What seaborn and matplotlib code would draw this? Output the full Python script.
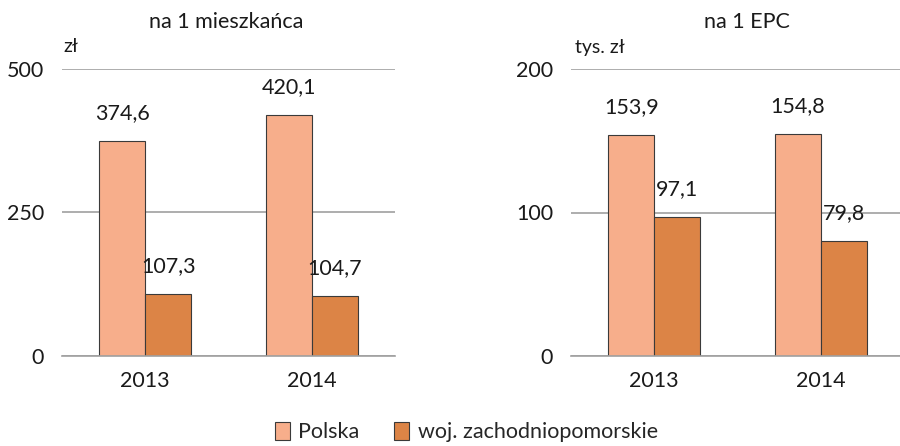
import matplotlib
matplotlib.use("Agg")
import matplotlib.pyplot as plt
import seaborn as sns
import pandas as pd
from matplotlib.patches import Patch

years = ["2013", "2014"]
series = ["Polska", "woj. zachodniopomorskie"]
per_resident = {"Polska": [374.6, 420.1], "woj. zachodniopomorskie": [107.3, 104.7]}
per_epc = {"Polska": [153.9, 154.8], "woj. zachodniopomorskie": [97.1, 79.8]}
titles = ["na 1 mieszkańca", "na 1 EPC"]
units = ["zł", "tys. zł"]
yticks_left = [0, 250, 500]
yticks_right = [0, 100, 200]
colors = ["#F7AE8B", "#DC8446"]

sns.set_theme(style="white")
plt.rcParams["font.family"] = ["Lato", "DejaVu Sans"]
FS = 15.5

fig = plt.figure(figsize=(9, 4.46), dpi=100)
ax1 = fig.add_axes([62/900, 1-356/446, 333/900, 287/446])
ax2 = fig.add_axes([571/900, 1-356/446, 333/900, 287/446])

def make_df(d):
    rows = []
    for s in series:
        for y, v in zip(years, d[s]):
            rows.append({"rok": y, "seria": s, "wartosc": v})
    return pd.DataFrame(rows)

for ax, data, ticks, title, unit, tx in [
    (ax1, per_resident, yticks_left, titles[0], units[0], 226),
    (ax2, per_epc, yticks_right, titles[1], units[1], 747),
]:
    df = make_df(data)
    sns.barplot(data=df, x="rok", y="wartosc", hue="seria", hue_order=series,
                palette=colors, width=0.55, edgecolor="#3a3a3a", linewidth=0.8,
                ax=ax, legend=False, saturation=1)
    ax.set_ylim(ticks[0], ticks[-1])
    ax.set_xlim(-0.5, 1.5)
    ax.set_yticks(ticks)
    ax.set_yticklabels([str(t) for t in ticks], fontsize=FS, color="#1a1a1a")
    ax.set_xticks([0, 1])
    ax.set_xticklabels(years, fontsize=FS, color="#1a1a1a")
    ax.tick_params(axis="y", length=0, pad=13)
    ax.tick_params(axis="x", length=0, pad=11)
    ax.set_xlabel("")
    ax.set_ylabel("")
    for sp in ["top", "right", "left"]:
        ax.spines[sp].set_visible(False)
    ax.spines["bottom"].set_color("#A0A0A0")
    ax.spines["bottom"].set_linewidth(1.2)
    ax.set_axisbelow(True)
    ax.yaxis.grid(True, color="#A0A0A0", linewidth=1.2)
    ax.xaxis.grid(False)
    for cont in ax.containers:
        ax.bar_label(cont, labels=[f"{v:.1f}".replace(".", ",") for v in cont.datavalues],
                     padding=13, fontsize=FS, color="#1a1a1a")
    fig.text(tx/900, 1-22/446, title, ha="center", va="center", fontsize=FS, color="#1a1a1a")

fig.text(63/900, 1-47/446, units[0], ha="left", va="center", fontsize=FS-1.5, color="#1a1a1a")
fig.text(575/900, 1-47/446, units[1], ha="left", va="center", fontsize=FS-1.5, color="#1a1a1a")

handles = [Patch(facecolor=c, edgecolor="#3a3a3a", linewidth=0.8) for c in colors]
fig.legend(handles, series, loc="center", bbox_to_anchor=(0.518, 1-432/446), ncol=2,
           frameon=False, fontsize=FS, handlelength=0.7, handleheight=0.9,
           handletextpad=0.4, columnspacing=1.6)

fig.savefig("out.png", dpi=100)
